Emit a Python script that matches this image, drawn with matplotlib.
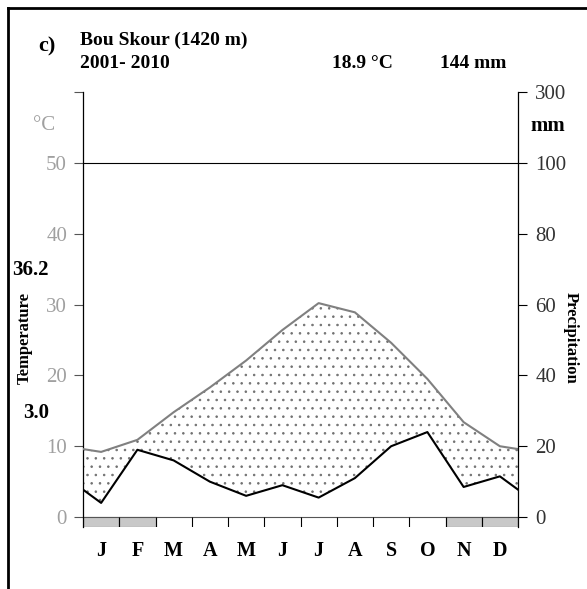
import matplotlib.pyplot as plt
from matplotlib.lines import Line2D
import numpy as np

# monthly climate normals, Bou Skour 2001-2010
months = ["J", "F", "M", "A", "M", "J", "J", "A", "S", "O", "N", "D"]
temp_c = [9.2, 10.9, 14.8, 18.3, 22.1, 26.4, 30.2, 28.9, 24.6, 19.5, 13.4, 10.0]
precip_mm = [4.0, 19.0, 16.0, 10.0, 6.0, 9.0, 5.5, 11.0, 20.0, 24.0, 8.5, 11.5]
frost_months = [0, 1, 10, 11]

station = "Bou Skour (1420 m)"
period = "2001- 2010"
mean_temp = "18.9 °C"
total_precip = "144 mm"
abs_max = "36.2"
abs_min = "3.0"

plt.rcParams['font.family'] = ['Liberation Serif', 'DejaVu Serif']
plt.rcParams['hatch.linewidth'] = 0.6
plt.rcParams['hatch.color'] = '#707070'

# Walter-Lieth: 20 mm = 10 degC, wrap the curves to the plot edges
t = np.array(temp_c)
p = np.array(precip_mm) / 2.0
x = np.concatenate([[0], np.arange(12) + 0.5, [12]])
t_ext = np.concatenate([[(t[0] + t[-1]) / 2], t, [(t[0] + t[-1]) / 2]])
p_ext = np.concatenate([[(p[0] + p[-1]) / 2], p, [(p[0] + p[-1]) / 2]])

fig = plt.figure(figsize=(5.87, 5.89), dpi=100)
ax = fig.add_axes([83 / 587, 62 / 589, 435 / 587, 435 / 589])
ybot = -1.4
ax.set_xlim(0, 12)
ax.set_ylim(ybot, 60)

ax.fill_between(x, p_ext, t_ext, where=t_ext >= p_ext, interpolate=True,
                facecolor='none', edgecolor='#707070', hatch='..', linewidth=0)
ax.plot(x, t_ext, color='#808080', lw=1.5, zorder=3)
ax.plot(x, p_ext, color='black', lw=1.5, zorder=3)
ax.axhline(50, color='black', lw=0.8)
ax.axhline(0, color='#555555', lw=0.8)

# frost month boxes and month separators under the zero line
ax.bar(np.array(frost_months) + 0.5, -ybot, bottom=ybot, width=1,
       facecolor='#c8c8c8', edgecolor='#555555', lw=0.8, zorder=2)
ax.vlines(np.arange(1, 12), ybot, 0, color='black', lw=0.8)

for s in ['top', 'bottom', 'right']:
    ax.spines[s].set_visible(False)
ax.spines['left'].set_linewidth(0.9)

ax.set_yticks([0, 10, 20, 30, 40, 50, 60])
ax.set_yticklabels(['0', '10', '20', '30', '40', '50', ''])
ax.tick_params(axis='y', direction='out', length=6.5, width=0.8, pad=5,
               labelsize=15, labelcolor='#a0a0a0', color='#555555')
ax.set_xticks(np.arange(12) + 0.5)
ax.set_xticklabels(months, fontweight='bold', fontsize=14.5)
ax.tick_params(axis='x', length=0, pad=10)

ax2 = ax.twinx()
ax2.set_ylim(ybot, 60)
ax2.set_yticks([0, 10, 20, 30, 40, 50, 60])
ax2.set_yticklabels(['0', '20', '40', '60', '80', '100', '300'])
ax2.tick_params(axis='y', direction='out', length=6.5, width=0.8, pad=6,
                labelsize=15, labelcolor='#333333', color='black')
for s in ['top', 'bottom', 'left']:
    ax2.spines[s].set_visible(False)
ax2.spines['right'].set_linewidth(0.9)

# header and side texts (pixel positions from the top-left corner)
def ftext(px, py, s, **kw):
    fig.text(px / 587, 1 - py / 589, s, **kw)

ftext(38, 46, "c)", fontsize=16, fontweight='bold', va='center')
ftext(80, 40, station, fontsize=14, fontweight='bold', va='center')
ftext(80, 64, period, fontsize=14, fontweight='bold', va='center')
ftext(332, 64, mean_temp, fontsize=14, fontweight='bold', va='center')
ftext(440, 64, total_precip, fontsize=14, fontweight='bold', va='center')
ftext(44, 126, "°C", fontsize=15, color='#a0a0a0', va='center', ha='center')
ftext(548, 126, "mm", fontsize=15, fontweight='bold', va='center', ha='center')
ftext(30, 270, abs_max, fontsize=15, fontweight='bold', va='center', ha='center')
ftext(36, 413, abs_min, fontsize=15, fontweight='bold', va='center', ha='center')
ftext(25, 338, "Temperature", fontsize=12, fontweight='bold', rotation=90,
      va='center', ha='center')
ftext(571, 338, "Precipitation", fontsize=12, fontweight='bold', rotation=270,
      va='center', ha='center')

# open frame: left and top border only
fig.add_artist(Line2D([8 / 587, 8 / 587], [0, 1 - 8 / 589], color='black', lw=2,
                      transform=fig.transFigure))
fig.add_artist(Line2D([8 / 587, 1], [1 - 8 / 589, 1 - 8 / 589], color='black', lw=2,
                      transform=fig.transFigure))

plt.savefig("out.png", dpi=100)
